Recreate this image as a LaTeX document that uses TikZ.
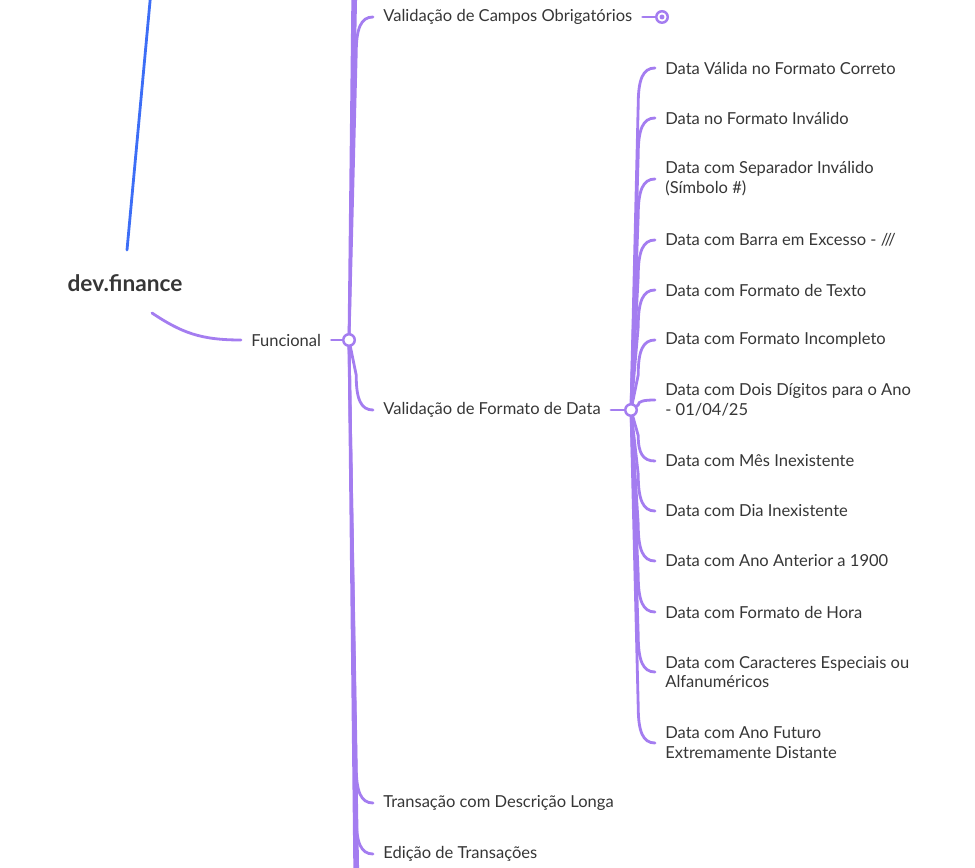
\documentclass[tikz,border=0pt]{standalone}
\usepackage{fontspec}
\setmainfont{Lato}
\usepackage{tikz}
\usetikzlibrary{calc, backgrounds}
\definecolor{mmPurple}{HTML}{A47DF0}
\definecolor{mmBlue}{HTML}{3D6EF6}
\definecolor{mmText}{HTML}{363636}

\tikzset{
  leaf/.style={anchor=west, inner xsep=0.2cm, inner ysep=0pt, align=left, text=mmText,
    font=\fontsize{9.4}{11.3}\selectfont},
  rootbox/.style={text=mmText, font=\bfseries\fontsize{12.9}{15}\selectfont},
  hub/.style={circle, draw=mmPurple, fill=white, line width=1.4pt, inner sep=0pt, minimum size=0.23cm},
  twig/.style={mmPurple, line width=1.6pt, line cap=round},
  mmcurve/.style={to path={let \p1=(\tikztostart), \p2=(\tikztotarget) in
      -- ({\x1+0.3*(\x2-\x1)}, {\y2+max(-21pt,min(21pt,0.5*(\y1-\y2)))})
      .. controls ({\x1+0.3*(\x2-\x1)}, {\y2+0.3*max(-21pt,min(21pt,0.5*(\y1-\y2)))})
         and ({\x1+0.5*(\x2-\x1)}, \y2) .. (\tikztotarget)}}
}

\begin{document}
\begin{tikzpicture}[x=0.02cm, y=-0.02cm]

  \useasboundingbox (0,0) rectangle (975,868);
  \clip (0,0) rectangle (975,868);

  % central topic
  \node[rootbox] (devfin) at (125,283) {dev.finance};
  \node[leaf] (func) at (241,340) {Funcional};
  \node[hub] (fcirc) at (349,340) {};
  \coordinate (rootlink) at (152,-20);
  \coordinate (fup) at (356,-20);
  \coordinate (fup2) at (353,-20);
  \coordinate (fdown) at (358,890);
  \coordinate (fdown2) at (355,890);

  % second level
  \node[leaf] (vcampos) at (373,17) {Validação de Campos Obrigatórios};
  \node[hub] (vccirc) at (662,17) {};
  \fill[mmPurple] (vccirc.center) circle (1.4pt);
  \node[leaf] (vdata) at (373,410) {Validação de Formato de Data};
  \node[hub] (vdcirc) at (631,410) {};
  \node[leaf] (tdesc) at (373,803) {Transação com Descrição Longa};
  \node[leaf] (edic) at (373,854) {Edição de Transações};

  % date cases
  \foreach \i/\ypos/\txt in {1/68/Data Válida no Formato Correto, 2/118/Data no Formato Inválido,
      3/179/{Data com Separador Inválido\\(Símbolo \#)}, 4/240/{Data com Barra em Excesso - ///},
      5/290/Data com Formato de Texto, 6/340/Data com Formato Incompleto,
      7/400/{Data com Dois Dígitos para o Ano\\- 01/04/25}, 8/461/Data com Mês Inexistente,
      9/511/Data com Dia Inexistente, 10/561/Data com Ano Anterior a 1900,
      11/612/Data com Formato de Hora, 12/672/{Data com Caracteres Especiais ou\\Alfanuméricos},
      13/743/{Data com Ano Futuro\\Extremamente Distante}}
    \node[leaf] (d\i) at (655,\ypos) {\txt};

  \begin{pgfonlayer}{background}
    \clip (0,0) rectangle (975,868);
    \draw[mmBlue, line width=1.6pt, line cap=round] ([shift={(2,-33)}]devfin.center) -- (rootlink);
    \draw[twig] ([shift={(27,30)}]devfin.center) .. controls +(30,20) and +(-40,0) .. (func.west);
    \draw[twig] (func.east) -- (fcirc.center);
    \draw[twig] (fcirc.center) -- (fup) (fcirc.center) -- (fup2)
      (fcirc.center) -- (fdown) (fcirc.center) -- (fdown2);
    \foreach \k in {vcampos,vdata,tdesc,edic}
      \draw[twig] (fcirc.center) to[mmcurve] (\k.west);
    \draw[twig] (vcampos.east) -- (vccirc.center);
    \draw[twig] (vdata.east) -- (vdcirc.center);
    \foreach \i in {1,...,13}
      \draw[twig] (vdcirc.center) to[mmcurve] (d\i.west);
  \end{pgfonlayer}

\end{tikzpicture}
\end{document}
